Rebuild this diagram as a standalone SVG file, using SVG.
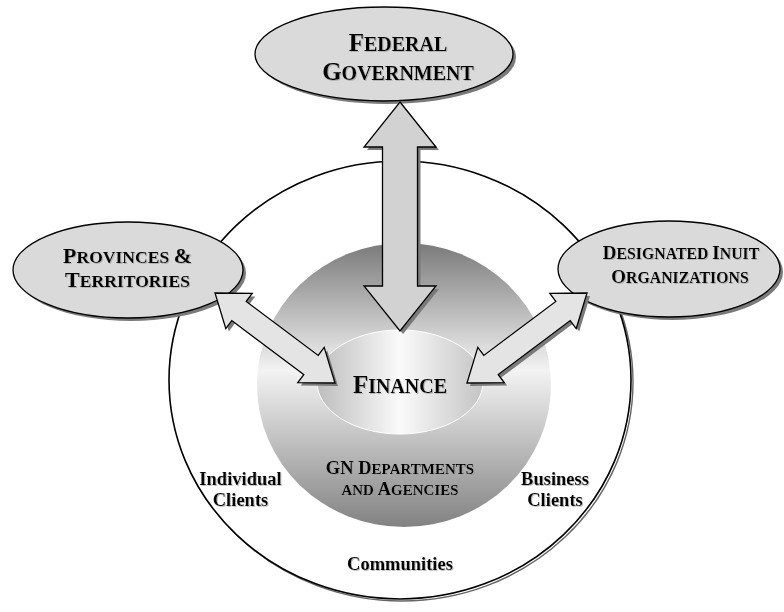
<svg xmlns="http://www.w3.org/2000/svg" width="784" height="612" viewBox="0 0 784 612">
<defs>
<linearGradient id="gnGrad" x1="0" y1="0" x2="0" y2="1">
<stop offset="0" stop-color="#7a7a7a"/>
<stop offset="0.45" stop-color="#f3f3f3"/>
<stop offset="1" stop-color="#828282"/>
</linearGradient>
<linearGradient id="finGrad" x1="0" y1="0" x2="1" y2="0">
<stop offset="0" stop-color="#bdbdbd"/>
<stop offset="0.5" stop-color="#fafafa"/>
<stop offset="1" stop-color="#c4c4c4"/>
</linearGradient>
<filter id="txtShadow" x="-10%" y="-10%" width="130%" height="140%">
<feDropShadow dx="1" dy="1" stdDeviation="0.3" flood-color="#999999" flood-opacity="0.6"/>
</filter>
<path id="vArrow" d="M0,0 L45,-36 L45,-17.5 L184,-17.5 L184,-36 L229,0 L184,36 L184,17.5 L45,17.5 L45,36 Z"/>
<path id="dArrow" d="M0,0 L30,-22 L30,-12 L120,-12 L120,-22 L150,0 L120,22 L120,12 L30,12 L30,22 Z"/>
</defs>
<style>
.oval{fill:#dadada;stroke:#000;stroke-width:1.3}
.shadow{fill:#7a7a7a}
.arrow{stroke:#000;stroke-width:1.3;stroke-linejoin:miter}
.ashadow{fill:#7a7a7a}
text{font-family:"Liberation Serif","Times New Roman",serif;font-weight:bold;fill:#000;text-anchor:middle}
.t{filter:url(#txtShadow)}
</style>
<rect x="0" y="0" width="784" height="612" fill="#ffffff"/>

<g id="clients-circle">
<ellipse cx="402" cy="382" rx="231" ry="219" fill="none" stroke="#666" stroke-width="1.4"/>
<ellipse cx="400" cy="380" rx="231" ry="219" fill="#ffffff" stroke="#000" stroke-width="1.6"/>
<g class="t">
<text x="240.5" y="485" font-size="18.5">Individual</text>
<text x="240.5" y="506" font-size="18.5">Clients</text>
<text x="555" y="485" font-size="18.5">Business</text>
<text x="555" y="506" font-size="18.5">Clients</text>
<text x="400" y="570" font-size="18.5">Communities</text>
</g>
</g>

<g id="gn-departments">
<ellipse cx="404" cy="385" rx="147" ry="142" fill="url(#gnGrad)"/>
<g class="t">
<text x="400" y="474"><tspan font-size="18.5">GN D</tspan><tspan font-size="15">EPARTMENTS</tspan></text>
<text x="400" y="495"><tspan font-size="15">AND </tspan><tspan font-size="18.5">A</tspan><tspan font-size="15">GENCIES</tspan></text>
</g>
</g>

<g id="finance">
<ellipse cx="400" cy="382" rx="83" ry="52" fill="url(#finGrad)" stroke="#ffffff" stroke-width="1"/>
<text class="t" x="400" y="393"><tspan font-size="25">F</tspan><tspan font-size="20">INANCE</tspan></text>
</g>

<g id="provinces">
<ellipse class="shadow" cx="131" cy="273" rx="115" ry="48"/>
<ellipse class="oval" cx="128" cy="270" rx="115" ry="48"/>
<g class="t">
<text x="127.5" y="263"><tspan font-size="22">P</tspan><tspan font-size="17.6">ROVINCES </tspan><tspan font-size="22">&amp;</tspan></text>
<text x="127.5" y="287"><tspan font-size="22">T</tspan><tspan font-size="17.6">ERRITORIES</tspan></text>
</g>
</g>

<g id="inuit-orgs">
<ellipse class="shadow" cx="672" cy="272" rx="111" ry="48"/>
<ellipse class="oval" cx="669" cy="269" rx="111" ry="48" fill="#e0e0e0"/>
<g class="t">
<text x="681" y="259"><tspan font-size="19">D</tspan><tspan font-size="15.8">ESIGNATED </tspan><tspan font-size="19">I</tspan><tspan font-size="15.8">NUIT</tspan></text>
<text x="680" y="283"><tspan font-size="19">O</tspan><tspan font-size="15.8">RGANIZATIONS</tspan></text>
</g>
</g>

<g id="federal">
<ellipse class="shadow" cx="387" cy="57" rx="129" ry="47"/>
<ellipse class="oval" cx="384" cy="54" rx="129" ry="47"/>
<g class="t">
<text x="398" y="51"><tspan font-size="25">F</tspan><tspan font-size="20">EDERAL</tspan></text>
<text x="398" y="80"><tspan font-size="25">G</tspan><tspan font-size="20">OVERNMENT</tspan></text>
</g>
</g>

<g id="connectors">
<use href="#vArrow" class="ashadow" transform="translate(403,105) rotate(90)"/>
<use href="#vArrow" class="arrow" fill="#d2d2d2" transform="translate(400,102) rotate(90)"/>
<use href="#dArrow" class="ashadow" transform="translate(218,296) rotate(36.87)"/>
<use href="#dArrow" class="arrow" fill="#e4e4e4" transform="translate(215,293) rotate(36.87)"/>
<use href="#dArrow" class="ashadow" transform="translate(590,296) rotate(143.13)"/>
<use href="#dArrow" class="arrow" fill="#e4e4e4" transform="translate(587,293) rotate(143.13)"/>
</g>
</svg>
